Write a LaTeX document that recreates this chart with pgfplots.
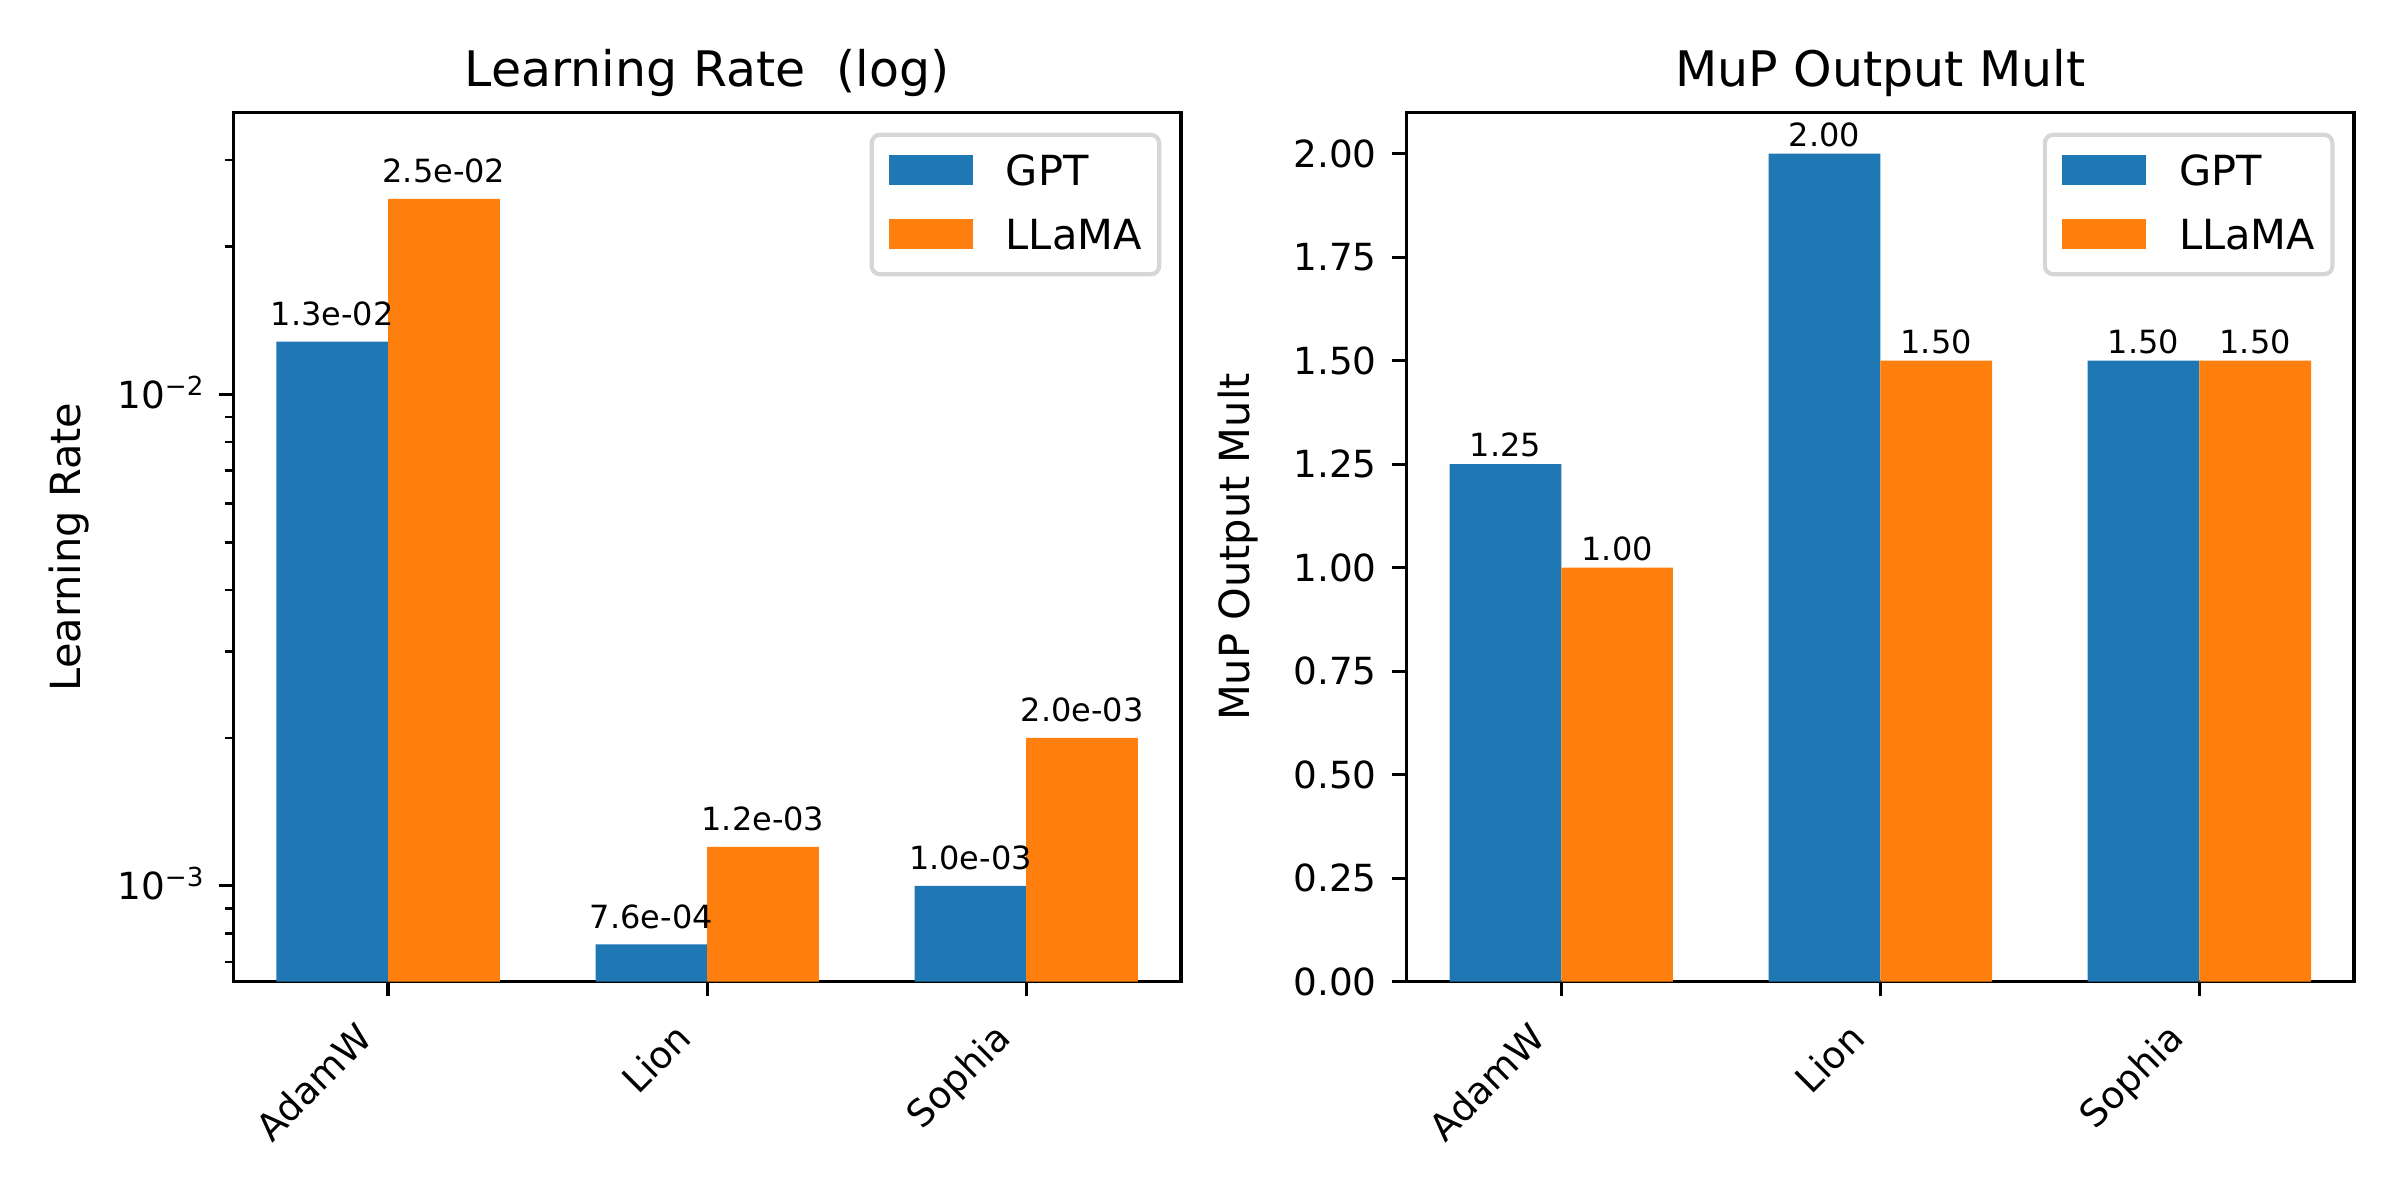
\documentclass[border=0pt]{standalone}
\usepackage{fontspec}
\setmainfont{DejaVu Sans}
\usepackage{pgfplots}
\usepackage{pgfplotstable}
\pgfplotsset{compat=1.18}
\definecolor{tabblue}{HTML}{1F77B4}
\definecolor{taborange}{HTML}{FF7F0E}
\definecolor{legedge}{HTML}{D6D6D6}

\pgfplotstableread{
x y label
-0.175 0.0128 1.3e-02
0.825 0.00076 7.6e-04
1.825 0.0010 1.0e-03
}\lrgpt
\pgfplotstableread{
x y label
0.175 0.025 2.5e-02
1.175 0.0012 1.2e-03
2.175 0.0020 2.0e-03
}\lrllama
\pgfplotstableread{
x y label
-0.175 1.25 1.25
0.825 2.00 2.00
1.825 1.50 1.50
}\mugpt
\pgfplotstableread{
x y label
0.175 1.00 1.00
1.175 1.50 1.50
2.175 1.50 1.50
}\mullama

\pgfplotsset{
  mpl/.style={
    scale only axis, width=227.4bp, height=208.66bp,
    clip=false,
    axis line style={line width=0.8bp, black},
    tick align=outside, xtick pos=bottom, ytick pos=left,
    major tick length=3.5bp, minor tick length=2bp,
    tick style={black, line width=0.8bp},
    minor tick style={black, line width=0.6bp},
    xmin=-0.485, xmax=2.485, xtick={0,1,2}, xticklabels={AdamW,Lion,Sophia},
    tick label style={font=\fontsize{9}{10.8}\selectfont},
    xticklabel style={inner sep=0pt, anchor=base east, xshift=-3.1bp, yshift=-10.5bp, rotate=45},
    yticklabel style={inner sep=0pt, anchor=base east, xshift=-3.5bp, yshift=-3.3bp},
    /pgf/number format/assume math mode=true,
    every axis title/.style={at={(0.5,1)}, anchor=base, yshift=6.1bp, inner sep=0pt, font=\fontsize{11.8}{14}\selectfont},
    legend style={at={(1,1)}, anchor=north east, xshift=-4.7bp, yshift=-4.9bp,
      draw=legedge, line width=1bp, rounded corners=2bp, fill=white,
      inner xsep=4.2bp, inner ysep=4.8bp, row sep=6.86bp, column sep=8bp,
      font=\fontsize{10}{12}\selectfont,
      nodes={inner sep=0pt, text height=7.3bp, text depth=1.2bp, anchor=base west}},
    legend cell align=left,
  },
  mybar/.style={ybar, bar width=0.35, bar shift=0pt, draw=none, fill=#1,
    legend image code/.code={\fill[#1, sharp corners] (0bp,0bp) rectangle (20bp,7.2bp);},
    nodes near coords, point meta=explicit symbolic},
}

\begin{document}
\begin{tikzpicture}
\path[use as bounding box] (0,0) rectangle (576bp,288bp);

\begin{axis}[mpl,
  at={(56.02bp,52.39bp)}, anchor=south west,
  ymode=log, log origin=infty,
  ymin=6.38e-4, ymax=0.0375,
  ytick={0.001,0.01},
  yticklabels={10\raisebox{3.1bp}{\fontsize{6.3}{7}\selectfont −3},10\raisebox{3.1bp}{\fontsize{6.3}{7}\selectfont −2}},
  minor ytick={7e-4,8e-4,9e-4,2e-3,3e-3,4e-3,5e-3,6e-3,7e-3,8e-3,9e-3,2e-2,3e-2},
  title={Learning Rate~~(log)},
  every axis y label/.style={at={(rel axis cs:0,0.5)}, xshift=-36.6bp, rotate=90, anchor=base, inner sep=0pt, font=\fontsize{10}{12}\selectfont},
  ylabel={Learning Rate},
  every node near coord/.append style={anchor=base, inner sep=0pt, yshift=3.9bp, font=\fontsize{7.7}{9}\selectfont, black},
]
\addplot[mybar=tabblue] table[x=x, y=y, meta=label] {\lrgpt};
\addlegendentry{GPT}
\addplot[mybar=taborange] table[x=x, y=y, meta=label] {\lrllama};
\addlegendentry{LLaMA}
\end{axis}

\begin{axis}[mpl,
  at={(337.58bp,52.39bp)}, anchor=south west,
  ymin=0, ymax=2.1,
  ytick={0,0.25,0.5,0.75,1,1.25,1.5,1.75,2},
  yticklabel={\pgfmathprintnumber[fixed, fixed zerofill, precision=2]{\tick}},
  title={MuP Output Mult},
  every axis y label/.style={at={(rel axis cs:0,0.5)}, xshift=-37.6bp, rotate=90, anchor=base, inner sep=0pt, font=\fontsize{10}{12}\selectfont},
  ylabel={MuP Output Mult},
  every node near coord/.append style={anchor=base, inner sep=0pt, yshift=1.75bp, font=\fontsize{7.7}{9}\selectfont, black},
]
\addplot[mybar=tabblue] table[x=x, y=y, meta=label] {\mugpt};
\addlegendentry{GPT}
\addplot[mybar=taborange] table[x=x, y=y, meta=label] {\mullama};
\addlegendentry{LLaMA}
\end{axis}
\end{tikzpicture}
\end{document}
